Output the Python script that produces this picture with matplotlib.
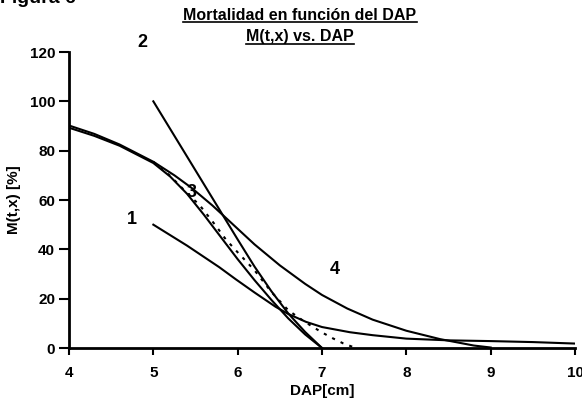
import matplotlib
matplotlib.use("Agg")
import matplotlib.pyplot as plt
from matplotlib.lines import Line2D

plt.rcParams['font.family'] = ['Liberation Sans', 'DejaVu Sans']
plt.rcParams['font.weight'] = 'bold'

# curve 1
dap_1 = [5.0, 5.4, 5.78, 5.98, 6.2, 6.45, 6.6, 6.81, 7.0, 7.33, 7.6, 8.0, 8.5, 9.0, 9.5, 10.0]
mort_1 = [50, 41.5, 32.8, 27.8, 22.5, 16.7, 13.8, 10.6, 8.5, 6.4, 5.2, 3.8, 3.1, 2.8, 2.4, 1.8]

# curve 2
dap_2 = [5.0, 5.2, 5.4, 5.6, 5.8, 6.0, 6.2, 6.4, 6.6, 6.8, 7.0]
mort_2 = [100, 88.8, 77.6, 66.4, 55.2, 44, 33, 23, 14, 6.5, 0]

# curve 3 (solid + dotted)
dap_3 = [4.0, 4.3, 4.6, 5.0, 5.2, 5.4, 5.6, 5.8, 6.0, 6.2, 6.4, 6.6, 6.8, 7.0]
mort_3 = [89.3, 86, 82, 75, 69.5, 62.5, 54, 45, 36, 27.5, 19.5, 12, 5.5, 0]
dap_3b = [5.0, 5.2, 5.45, 5.54, 5.74, 5.86, 6.0, 6.2, 6.4, 6.6, 6.8, 7.0, 7.13, 7.25, 7.4]
mort_3b = [75.5, 69.8, 61, 58.3, 49.6, 44, 38.8, 31.5, 22.7, 15.3, 10.5, 6.3, 3.9, 1.9, 0]

# curve 4
dap_4 = [4.0, 4.3, 4.6, 5.0, 5.25, 5.45, 5.7, 5.9, 6.2, 6.5, 6.8, 7.0, 7.3, 7.6, 8.0, 8.4, 8.8, 9.0]
mort_4 = [90.2, 86.8, 82.5, 75.5, 70, 65, 57.8, 51.5, 42, 33.5, 26, 21.5, 16, 11.5, 7, 3.6, 1.0, 0.2]

curve_labels = ["1", "2", "3", "4"]
label_x = [4.75, 4.87, 5.45, 7.15]
label_y = [52, 124, 63, 32]

title_lines = ['Mortalidad en función del DAP', 'M(t,x) vs. DAP']

fig = plt.figure(figsize=(5.82, 4.05), dpi=100)
ax = fig.add_axes([69 / 582, 57 / 405, 506 / 582, 296 / 405])

lw = 1.5
ax.plot(dap_1, mort_1, color='black', lw=lw)
ax.plot(dap_2, mort_2, color='black', lw=lw)
ax.plot(dap_3, mort_3, color='black', lw=lw)
ax.plot(dap_3b, mort_3b, color='black', lw=lw, ls=(0, (1.5, 3)))
ax.plot(dap_4, mort_4, color='black', lw=lw)

for lab, lx, ly in zip(curve_labels, label_x, label_y):
    ax.text(lx, ly, lab, fontsize=13, fontweight='bold', ha='center', va='center', clip_on=False)

ax.set_xlim(4, 10)
ax.set_ylim(0, 120)
ax.set_xticks(range(4, 11))
ax.set_yticks(range(0, 121, 20))
for s in ['top', 'right']:
    ax.spines[s].set_visible(False)
for s in ['left', 'bottom']:
    ax.spines[s].set_linewidth(2)
ax.tick_params(axis='x', direction='out', length=5, width=1.5, labelsize=11, pad=8)
ax.tick_params(axis='y', direction='out', length=7, width=1.5, labelsize=11, pad=3)
for t in ax.get_xticklabels() + ax.get_yticklabels():
    t.set_fontweight('bold')
ax.set_xlabel('DAP[cm]', fontsize=11, fontweight='bold')
ax.set_ylabel('M(t,x) [%]', fontsize=11, fontweight='bold')
ax.xaxis.set_label_coords(0.5, -0.122)
ax.yaxis.set_label_coords(-0.095, 0.5)

# title, two underlined lines
title_y = [1 - 15 / 405, 1 - 37 / 405]
titles = []
for txt, ty in zip(title_lines, title_y):
    titles.append(fig.text(300 / 582, ty, txt, ha='center', va='center', fontsize=11.5, fontweight='bold'))

fig.text(0.0, 1 - 3 / 405, 'Figura 6', ha='left', va='baseline', fontsize=14, fontweight='bold')

fig.canvas.draw()
renderer = fig.canvas.get_renderer()
inv = fig.transFigure.inverted()
for t in titles:
    bb = t.get_window_extent(renderer)
    (x0, y0), (x1, y1) = inv.transform([(bb.x0, bb.y0), (bb.x1, bb.y0)])
    fig.add_artist(Line2D([x0, x1], [y0 + 0.002, y0 + 0.002], color='black', lw=1.2,
                          transform=fig.transFigure))

plt.savefig('out.png', dpi=100)
